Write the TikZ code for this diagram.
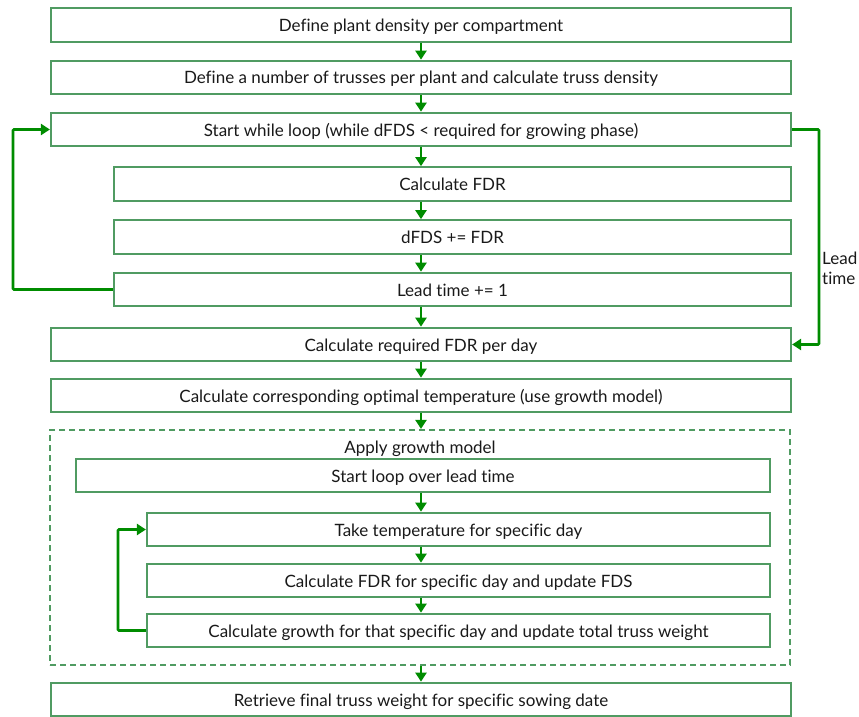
\documentclass[tikz,border=0pt]{standalone}
\usepackage{fontspec}
\setmainfont{Lato}[Ligatures={NoCommon}]
\usetikzlibrary{arrows.meta,calc}
\definecolor{boxgreen}{RGB}{80,155,98}
\definecolor{flowgreen}{RGB}{0,140,0}
\definecolor{txt}{RGB}{25,25,25}
\tikzset{
  labelfont/.style={text=txt, font=\fontsize{17}{20}\selectfont},
  stepbox/.style={draw=boxgreen, line width=2.2pt, minimum height=33.5pt, inner sep=0pt,
    labelfont, text height=14pt, text depth=1pt},
  flow/.style={draw=flowgreen, line width=2.6pt,
    -{Triangle[length=9pt,width=11pt]}},
  loopline/.style={draw=flowgreen, line width=2.6pt,
    -{Triangle[length=9pt,width=11pt]}, rounded corners=1pt},
}
\begin{document}
\begin{tikzpicture}[x=1pt,y=-1pt]
\useasboundingbox (0,0) rectangle (859,717);
\coordinate (ax) at (421,0);
\coordinate (lx) at (13,0);
\coordinate (rx) at (819,0);
\coordinate (ix) at (118,0);

% main column
\node[stepbox, minimum width=740pt] (b1) at (421,25) {Define plant density per compartment};
\node[stepbox, minimum width=740pt] (b2) at (421,77.5) {Define a number of trusses per plant and calculate truss density};
\node[stepbox, minimum width=740pt] (b3) at (421,129.5) {Start while loop (while dFDS < required for growing phase)};
\node[stepbox, minimum width=677pt] (b4) at (452.5,184) {Calculate FDR};
\node[stepbox, minimum width=677pt] (b5) at (452.5,237) {dFDS += FDR};
\node[stepbox, minimum width=677pt] (b6) at (452.5,289.5) {Lead time += 1};
\node[stepbox, minimum width=740pt] (b7) at (421,344.5) {Calculate required FDR per day};
\node[stepbox, minimum width=740pt] (b8) at (421,395.5) {Calculate corresponding optimal temperature (use growth model)};

% growth model group
\node[draw=boxgreen, line width=2.2pt, dash pattern=on 6pt off 4pt,
  minimum width=740pt, minimum height=235pt, inner sep=0pt] (gm) at (420,547.5) {};
\node[labelfont, anchor=base, inner sep=0pt] (gmt) at (420,453.5) {Apply growth model};
\node[stepbox, minimum width=694pt] (b9) at (423,475.5) {Start loop over lead time};
\node[stepbox, minimum width=623pt] (b10) at (458.5,529.5) {Take temperature for specific day};
\node[stepbox, minimum width=623pt] (b11) at (458.5,580.5) {Calculate FDR for specific day and update FDS};
\node[stepbox, minimum width=623pt] (b12) at (458.5,630.5) {Calculate growth for that specific day and update total truss weight};

\node[stepbox, minimum width=740pt] (b13) at (421,699.5) {Retrieve final truss weight for specific sowing date};

% downward flow
\foreach \a/\b in {b1/b2,b2/b3,b3/b4,b4/b5,b5/b6,b6/b7,b7/b8,b8/gm,b9/b10,b10/b11,b11/b12,gm/b13}
  \draw[flow] (\a.south -| ax) -- (\b.north -| ax);

% loops
\draw[loopline] (b6.west) -- (b6.west -| lx) |- (b3.west);
\draw[loopline] (b3.east) -- (b3.east -| rx) |- (b7.east);
\draw[loopline] (b12.west) -- (b12.west -| ix) |- (b10.west);

\node[labelfont, align=left, anchor=west, inner sep=0pt] (lt) at (822,268) {Lead\\time};
\end{tikzpicture}
\end{document}
